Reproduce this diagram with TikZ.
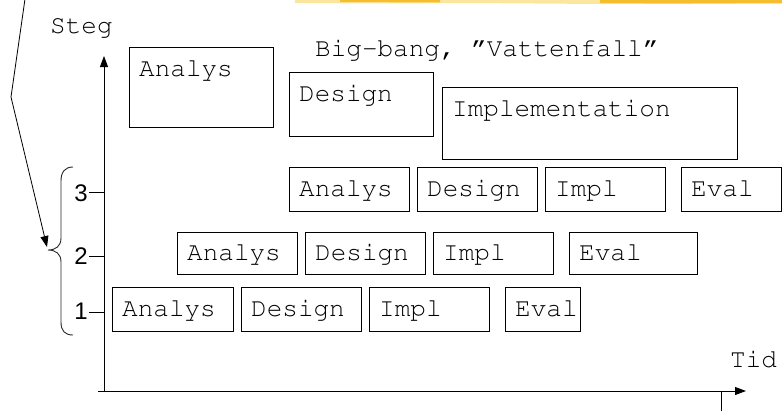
\documentclass[tikz,border=0pt]{standalone}
\usepackage[T1]{fontenc}
\usepackage{fontspec}
\usetikzlibrary{arrows.meta}
\newfontfamily\sansfnt{Liberation Sans}
\newcommand\courfnt{\fontencoding{T1}\fontfamily{pcr}\fontseries{m}\fontshape{n}\fontsize{26}{30}\selectfont}
\definecolor{brushA}{HTML}{FBE6A0}
\definecolor{brushB}{HTML}{F5BE2E}
\begin{document}
\begin{tikzpicture}[x=1pt,y=-1pt,
  box/.style={draw, line width=0.9pt, inner sep=0pt, anchor=north west},
  txt/.style={font=\courfnt, inner sep=0pt, text height=15pt, text depth=0pt},
  inl/.style={txt, anchor=west, xshift=10pt},
  topl/.style={txt, anchor=base west, xshift=10pt, yshift=-29pt},
  num/.style={font=\sansfnt\fontsize{24}{28}\selectfont, inner sep=0pt, text height=17pt, text depth=0pt, anchor=east},
  axis/.style={line width=0.9pt, -{Triangle[length=11pt,width=8pt]}},
  tick/.style={line width=0.9pt}
]
\useasboundingbox (0,0) rectangle (782,410);

% yellow brush stroke at top
\fill[brushA] (295,0) -- (782,0) -- (782,3.5) -- (600,4) -- (470,3) -- (380,3.5) -- (295,3) -- cycle;
\fill[brushB] (340,0) -- (440,0) -- (440,2.5) -- (340,2) -- cycle;
\fill[brushB] (600,0) -- (782,0) -- (782,3) -- (690,3.5) -- (600,3) -- cycle;

% titles
\node[txt, anchor=base west] (steg) at (50,33) {Steg};
\node[txt, anchor=base west] (bigbang) at (315,56) {Big-bang, \textquotedblright Vattenfall\textquotedblright};
\node[txt, anchor=base west] (tid) at (730,367) {Tid};

% axes
\coordinate (o) at (104,391);
\coordinate (xs) at (98,391);
\coordinate (xe) at (746,391);
\coordinate (ye) at (104,56);
\draw[axis] (xs) -- (xe);
\draw[axis] (o) -- (ye);
\coordinate (tb) at (721,391);
\coordinate (tbb) at (721,412);
\draw[tick] (tb) -- (tbb);

% ticks and numbers
\coordinate (t3) at (104,192);
\coordinate (t2) at (104,256);
\coordinate (t1) at (104,312);
\coordinate (t3s) at (89,192);
\coordinate (t2s) at (89,256);
\coordinate (t1s) at (89,312);
\node[num] (n3) at (88,193) {3};
\node[num] (n2) at (88,256) {2};
\node[num] (n1) at (88,311) {1};
\draw[tick] (t3s) -- (t3);
\draw[tick] (t2s) -- (t2);
\draw[tick] (t1s) -- (t1);

% brace
\draw[line width=0.9pt, black!85] (73,167) .. controls (65,167) and (61,172) .. (61,181)
  -- (61,238) .. controls (61,246) and (56,250) .. (48,250)
  .. controls (56,250) and (61,254) .. (61,262)
  -- (61,322) .. controls (61,331) and (65,335) .. (73,335);
\coordinate (bracetip) at (47,247);

% pointer line
\coordinate (p0) at (25,-1);
\coordinate (p1) at (11,97);
\draw[line width=0.8pt, -{Triangle[length=11pt,width=8pt]}] (p0) -- (p1) -- (bracetip);

% big-bang boxes
\node[box, minimum width=144pt, minimum height=80pt, label={[topl]north west:Analys}] (bA) at (129,47) {};
\node[box, minimum width=144pt, minimum height=64pt, label={[topl]north west:Design}] (bD) at (289,72) {};
\node[box, minimum width=295pt, minimum height=72pt, label={[topl]north west:Implementation}] (bI) at (442,87) {};

% row 3
\node[box, minimum width=120pt, minimum height=44pt, label={[inl]west:Analys}] (r3a) at (289,167) {};
\node[box, minimum width=120pt, minimum height=44pt, label={[inl]west:Design}] (r3d) at (417,167) {};
\node[box, minimum width=120pt, minimum height=44pt, label={[inl]west:Impl}] (r3i) at (545,167) {};
\node[box, minimum width=100pt, minimum height=44pt, label={[inl]west:Eval}] (r3e) at (681,167) {};

% row 2
\node[box, minimum width=120pt, minimum height=42pt, label={[inl]west:Analys}] (r2a) at (177,232) {};
\node[box, minimum width=120pt, minimum height=42pt, label={[inl]west:Design}] (r2d) at (305,232) {};
\node[box, minimum width=120pt, minimum height=42pt, label={[inl]west:Impl}] (r2i) at (433,232) {};
\node[box, minimum width=128pt, minimum height=42pt, label={[inl]west:Eval}] (r2e) at (569,232) {};

% row 1
\node[box, minimum width=121pt, minimum height=44pt, label={[inl]west:Analys}] (r1a) at (112,287) {};
\node[box, minimum width=120pt, minimum height=44pt, label={[inl]west:Design}] (r1d) at (241,287) {};
\node[box, minimum width=120pt, minimum height=44pt, label={[inl]west:Impl}] (r1i) at (369,287) {};
\node[box, minimum width=75pt, minimum height=44pt, label={[inl]west:Eval}] (r1e) at (505,287) {};
\end{tikzpicture}
\end{document}
